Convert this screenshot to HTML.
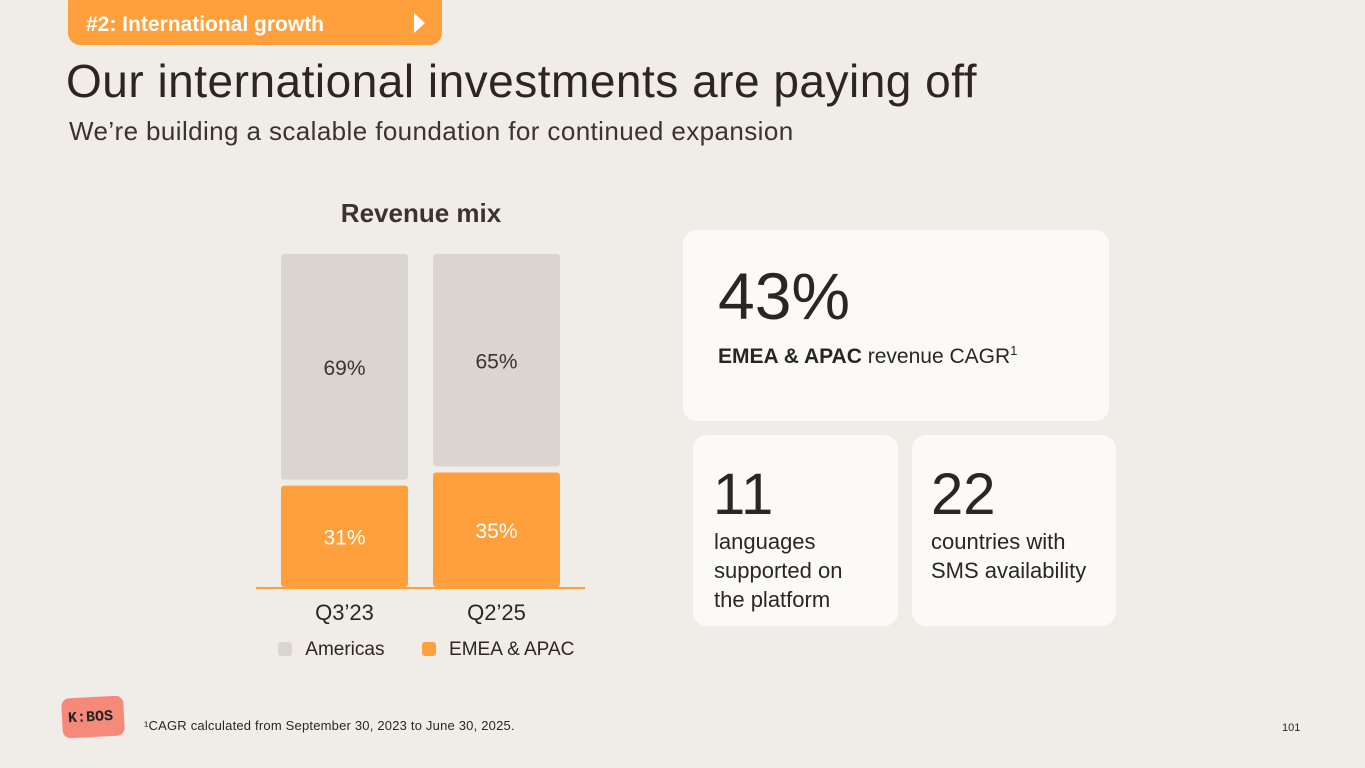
<!DOCTYPE html>
<html><head><meta charset="utf-8"><style>
body{margin:0;width:1365px;height:768px;background:#f0ede9;font-family:"Liberation Sans",sans-serif;color:#2b2622;position:relative;overflow:hidden}
.abs{position:absolute}
.card{position:absolute;background:#fbfaf8;border-radius:14px}
</style></head><body>
<div class="abs" style="left:68px;top:-10px;width:374px;height:55px;background:#ffa03c;border-radius:12px">
<div class="abs" style="left:18px;top:23px;color:#fff;font-size:21px;font-weight:bold">#2: International growth</div>
<div class="abs" style="left:346px;top:23px;width:0;height:0;border-left:11px solid #fff;border-top:10px solid transparent;border-bottom:10px solid transparent"></div>
</div>
<div class="abs" style="left:66px;top:54px;font-size:46px;letter-spacing:0.5px">Our international investments are paying off</div>
<div class="abs" style="left:69px;top:116px;font-size:26px;letter-spacing:0.4px;color:#3a3430">We’re building a scalable foundation for continued expansion</div>
<div class="abs" style="left:256px;width:330px;text-align:center;top:198px;font-size:26px;font-weight:bold;color:#3a3430">Revenue mix</div>
<svg class="abs" id="chart" style="left:0;top:0" width="700" height="700"></svg>
<div class="abs" style="left:278px;top:639px;font-size:19px;color:#2b2622">
<span style="display:inline-block;width:14px;height:14px;background:#dbd5cf;border-radius:3px;vertical-align:-1px"></span>
<span style="margin-left:8px">Americas</span>
<span style="display:inline-block;width:14px;height:14px;background:#ffa03c;border-radius:3px;vertical-align:-1px;margin-left:32px"></span>
<span style="margin-left:8px">EMEA &amp; APAC</span>
</div>
<div class="card" style="left:683px;top:230px;width:426px;height:191px">
<div class="abs" style="left:35px;top:28px;font-size:66px">43%</div>
<div class="abs" style="left:35px;top:113px;font-size:21px"><b>EMEA &amp; APAC</b> revenue CAGR<sup style="font-size:13px">1</sup></div>
</div>
<div class="card" style="left:693px;top:435px;width:205px;height:191px">
<div class="abs" style="left:20px;top:26px;font-size:58px">11</div>
<div class="abs" style="left:21px;top:92px;font-size:22px;line-height:29px">languages<br>supported on<br>the platform</div>
</div>
<div class="card" style="left:912px;top:435px;width:204px;height:191px">
<div class="abs" style="left:19px;top:26px;font-size:58px">22</div>
<div class="abs" style="left:19px;top:92px;font-size:22px;line-height:29px">countries with<br>SMS availability</div>
</div>
<div class="abs" style="left:62px;top:697px;width:62px;height:40px;background:#f58a7a;border-radius:8px;transform:rotate(-3deg)">
<div class="abs" style="left:6px;top:12px;font-size:15px;font-weight:bold;color:#222;font-family:'Liberation Mono',monospace">K:BOS</div></div>
<div class="abs" style="left:144px;top:718px;font-size:13px;letter-spacing:0.2px">¹CAGR calculated from September 30, 2023 to June 30, 2025.</div>
<div class="abs" style="left:1282px;top:722px;font-size:11px">101</div>
<script>
const categories=["Q3’23","Q2’25"];
const emea=[31,35];
const americas=[69,65];
const svg=document.getElementById('chart');
const NS='http://www.w3.org/2000/svg';
const base=587,ppu=3.27,gap=6,barW=127;
const xPos=i=>281+i*152;
const yH=v=>v*ppu;
function mk(t,a){const e=document.createElementNS(NS,t);for(const k in a)e.setAttribute(k,a[k]);svg.appendChild(e);return e;}
categories.forEach((c,i)=>{
 const x=xPos(i),hE=yH(emea[i]),hA=yH(americas[i]);
 let r=mk('rect',{x:x,y:base-hE,width:barW,height:hE,fill:'#ffa03c',rx:3});
 
 
 let r2=mk('rect',{x:x,y:base-hE-gap-hA,width:barW,height:hA,fill:'#dbd5cf',rx:3});
 
 
 let t=mk('text',{x:x+barW/2,y:base-hE/2+8,'text-anchor':'middle','font-size':21,fill:'#fff','font-family':'Liberation Sans'});t.textContent=emea[i]+'%';
 
 
 let t2=mk('text',{x:x+barW/2,y:base-hE-gap-hA/2+8,'text-anchor':'middle','font-size':21,fill:'#3a3430','font-family':'Liberation Sans'});t2.textContent=americas[i]+'%';
 
 
 let t3=mk('text',{x:x+barW/2,y:620,'text-anchor':'middle','font-size':22,fill:'#2b2622','font-family':'Liberation Sans'});t3.textContent=c;
 
 
});
const bl=mk('line',{x1:256,x2:585,y1:base+1,y2:base+1,stroke:'#ffa03c','stroke-width':2});


</script>
</body></html>
